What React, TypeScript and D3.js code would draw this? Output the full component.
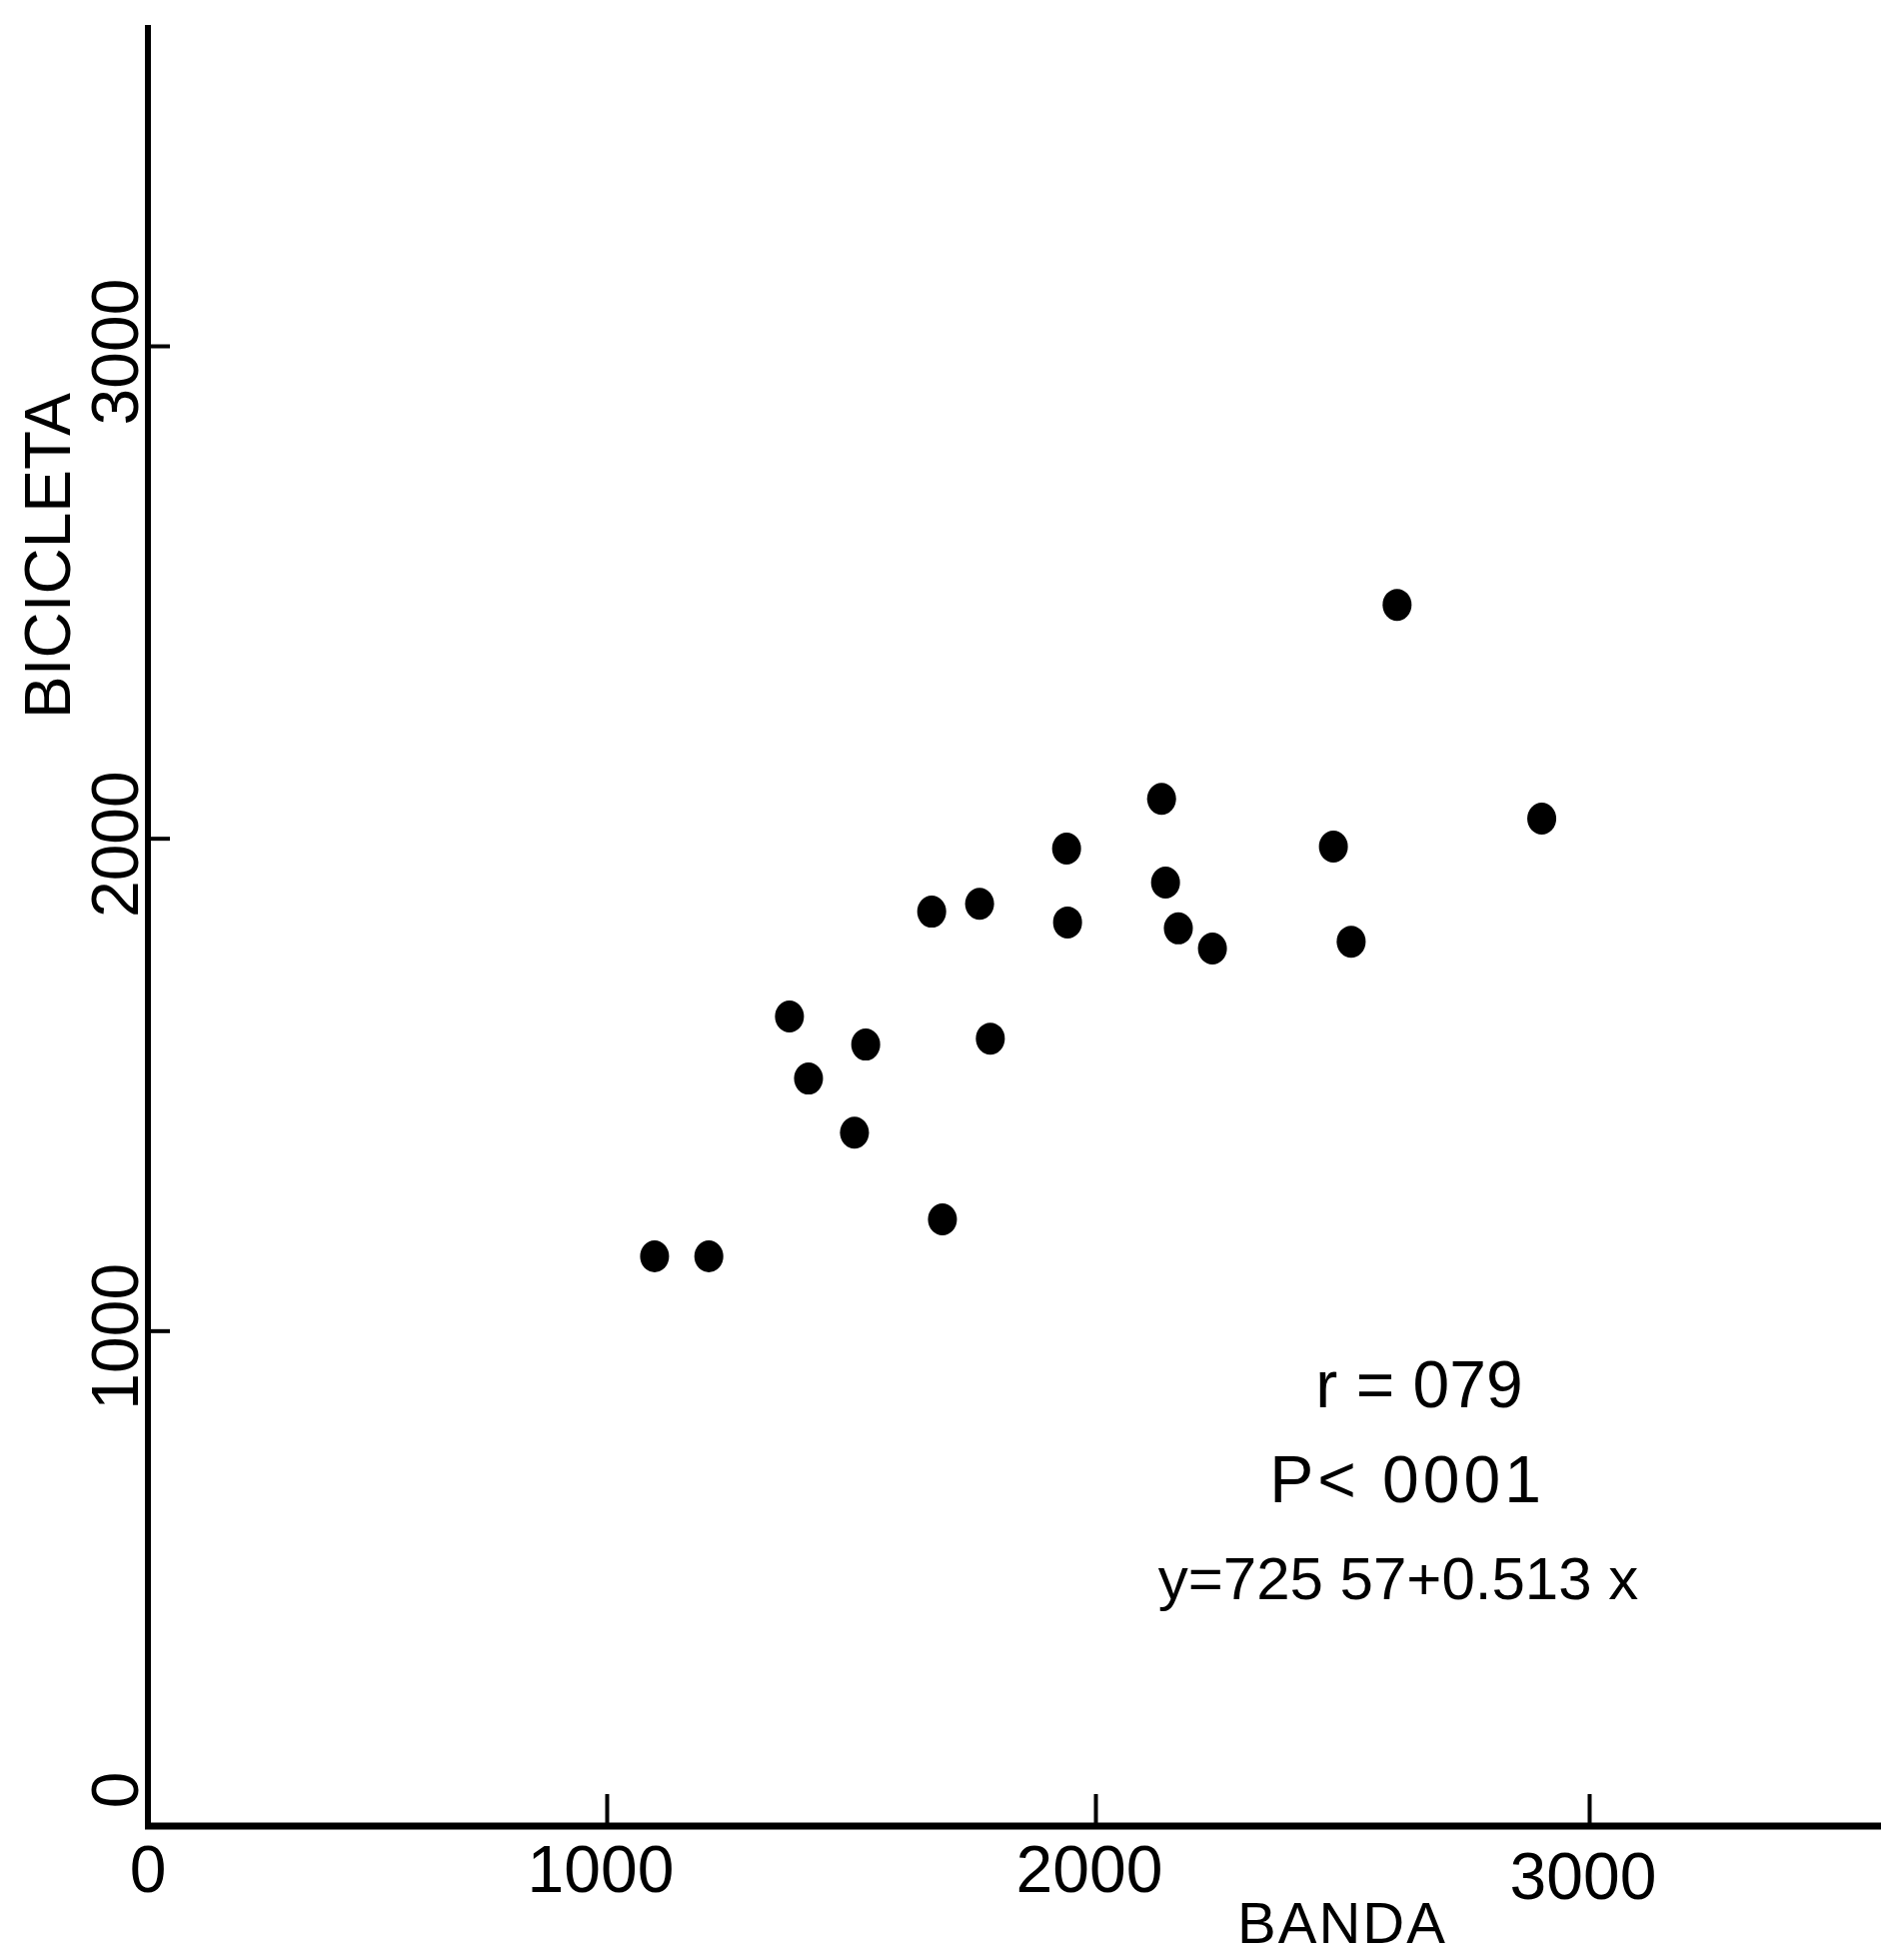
import React, { useEffect, useRef } from "react";
import * as d3 from "d3";

const banda = [1098, 1209, 1374, 1413, 1507, 1530, 1665, 1687, 1763, 1785, 1941, 1943, 2134, 2142, 2168, 2237, 2482, 2518, 2611, 2904];
const bicicleta = [1151, 1151, 1638, 1512, 1402, 1581, 1851, 1226, 1867, 1593, 1979, 1829, 2080, 1910, 1817, 1776, 1983, 1790, 2474, 2040];
const xTicks = [1000, 2000, 3000];
const yTicks = [1000, 2000, 3000];
const statLines = ["r = 079", "P< 0001", "y=725 57+0.513 x"];

const W = 1882, H = 1961;
const FONT = "'Liberation Sans', Arial, sans-serif";

export default function App() {
  const ref = useRef<SVGSVGElement>(null);

  useEffect(() => {
    const svg = d3.select(ref.current);
    svg.selectAll("*").remove();

    // hand drawn axes: tick spacing isn't perfectly even on x
    const x = d3.scaleLinear().domain([0, 1000, 2000, 3000]).range([148, 607, 1096, 1590]);
    const y = d3.scaleLinear().domain([0, 3000]).range([1824, 346]);

    // y axis
    svg.append("line")
      .attr("x1", x(0)).attr("x2", x(0))
      .attr("y1", 25).attr("y2", y(0))
      .attr("stroke", "#000").attr("stroke-width", 6);

    const gy = svg.append("g")
      .attr("transform", "translate(" + x(0) + ",0)")
      .call(d3.axisRight(y).tickValues(yTicks).tickSize(22).tickFormat(() => ""));
    gy.select(".domain").remove();
    gy.selectAll(".tick line").attr("stroke", "#000").attr("stroke-width", 4);

    // x axis
    svg.append("line")
      .attr("x1", x(0) - 3).attr("x2", W)
      .attr("y1", 1827).attr("y2", 1827)
      .attr("stroke", "#000").attr("stroke-width", 7);

    const gx = svg.append("g")
      .attr("transform", "translate(0,1827)")
      .call(d3.axisTop(x).tickValues(xTicks).tickSize(32).tickFormat(() => ""));
    gx.select(".domain").remove();
    gx.selectAll(".tick line").attr("stroke", "#000").attr("stroke-width", 4);

    // x tick labels
    svg.append("g").selectAll("text")
      .data([0].concat(xTicks))
      .enter().append("text")
      .attr("x", d => x(d) - (d === 0 ? 0 : 6))
      .attr("y", d => (d === 3000 ? 1900 : 1893))
      .attr("text-anchor", "middle")
      .attr("font-family", FONT)
      .attr("font-size", 66)
      .text(d => d);

    // y tick labels (rotated)
    svg.append("g").selectAll("text")
      .data([0].concat(yTicks))
      .enter().append("text")
      .attr("transform", d => {
        const cy = d === 0 ? y(0) - 33 : y(d) + 6;
        return "translate(138," + cy + ") rotate(-90)";
      })
      .attr("text-anchor", "middle")
      .attr("font-family", FONT)
      .attr("font-size", 66)
      .text(d => d);

    // axis titles
    svg.append("text")
      .attr("transform", "translate(70,556) rotate(-90)")
      .attr("text-anchor", "middle")
      .attr("font-family", FONT)
      .attr("font-size", 64)
      .text("BICICLETA");

    svg.append("text")
      .attr("x", 1343).attr("y", 1944)
      .attr("text-anchor", "middle")
      .attr("font-family", FONT)
      .attr("font-size", 58)
      .attr("letter-spacing", 2)
      .text("BANDA");

    // points
    svg.append("g").selectAll("ellipse")
      .data(banda.map((b, i) => [b, bicicleta[i]]))
      .enter().append("ellipse")
      .attr("cx", d => x(d[0]))
      .attr("cy", d => y(d[1]))
      .attr("rx", 14.5)
      .attr("ry", 16)
      .attr("fill", "#000");

    // regression stats
    const statY = [1408, 1503, 1600];
    const statX = [1420, 1408, 1399];
    svg.append("g").selectAll("text")
      .data(statLines)
      .enter().append("text")
      .attr("x", (d, i) => statX[i])
      .attr("y", (d, i) => statY[i])
      .attr("text-anchor", "middle")
      .attr("font-family", FONT)
      .attr("font-size", (d, i) => (i === 2 ? 60 : 66))
      .attr("letter-spacing", (d, i) => (i === 1 ? 4 : 0))
      .text(d => d);
  }, []);

  return (
    <svg ref={ref} width={W} height={H}
      style={{ position: "absolute", left: 0, top: 0, background: "#fff" }} />
  );
}
